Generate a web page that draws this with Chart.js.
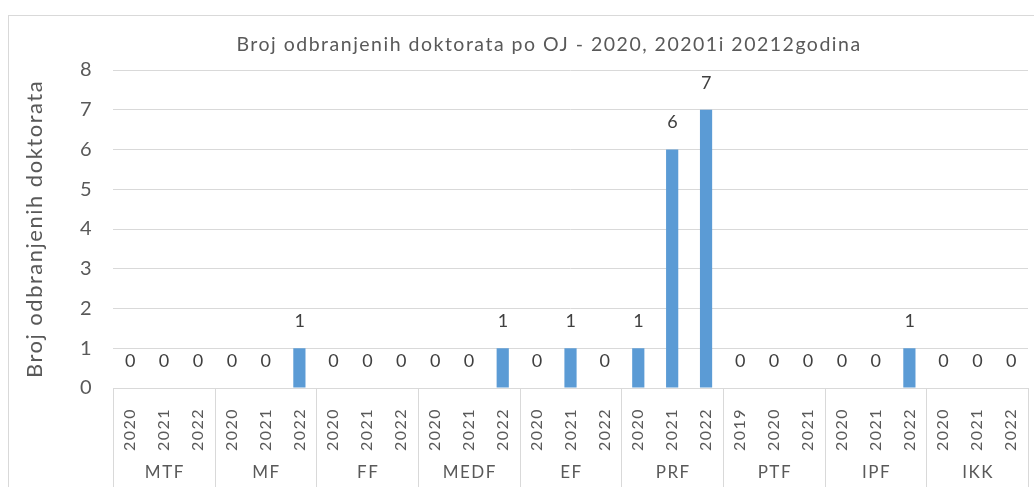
<!DOCTYPE html>
<html>
<head>
<meta charset="utf-8">
<script src="https://cdn.jsdelivr.net/npm/chart.js@4.4.1/dist/chart.umd.min.js"></script>
<style>
html, body { margin: 0; padding: 0; background: #fff; overflow: hidden; }
#wrap { position: relative; width: 1034px; height: 487px; }
#frame { position: absolute; left: 8px; top: 15px; width: 1100px; height: 600px; border: 1px solid #d9d9d9; }
canvas { position: absolute; left: 0; top: 0; }
</style>
</head>
<body>
<div id="wrap">
  <div id="frame"></div>
  <canvas id="myChart" width="1034" height="487"></canvas>
</div>
<script>
// data
var chartTitle = "Broj odbranjenih doktorata po OJ - 2020, 20201i 20212godina";
var axisTitle = "Broj odbranjenih doktorata";
var groups = ["MTF", "MF", "FF", "MEDF", "EF", "PRF", "PTF", "IPF", "IKK"];
var years = [
	"2020", "2021", "2022",
	"2020", "2021", "2022",
	"2020", "2021", "2022",
	"2020", "2021", "2022",
	"2020", "2021", "2022",
	"2020", "2021", "2022",
	"2019", "2020", "2021",
	"2020", "2021", "2022",
	"2020", "2021", "2022"
];
var counts = [
	0, 0, 0,
	0, 0, 1,
	0, 0, 0,
	0, 0, 1,
	0, 1, 0,
	1, 6, 7,
	0, 0, 0,
	0, 0, 1,
	0, 0, 0
];
var yTicks = [0, 1, 2, 3, 4, 5, 6, 7, 8];

var FONT = "Lato";
var TEXT = "#595959";
var LINE = "#d9d9d9";

//labels, title, group boxes
var excelBits = {
	id: "excelBits",
	beforeDraw: function(chart) {
		// excel text here is spaced out a bit
		chart.ctx.letterSpacing = "1.5px";
	},
	afterDatasetsDraw: function(chart) {
		var ctx = chart.ctx;
		var meta = chart.getDatasetMeta(0);
		ctx.save();
		ctx.font = "18px " + FONT;
		ctx.fillStyle = "#404040";
		ctx.textAlign = "center";
		ctx.textBaseline = "middle";
		meta.data.forEach(function(bar, i) {
			ctx.fillText(String(counts[i]), bar.x + 1, bar.y - 27);
		});
		ctx.restore();
	},
	afterDraw: function(chart) {
		var ctx = chart.ctx;
		var xs = chart.scales.x;
		var area = chart.chartArea;
		var step = xs.getPixelForValue(1) - xs.getPixelForValue(0);
		var per = years.length / groups.length;

		ctx.save();
		// title
		ctx.font = "19.5px " + FONT;
		ctx.fillStyle = TEXT;
		ctx.textAlign = "center";
		ctx.textBaseline = "middle";
		ctx.fillText(chartTitle, 549, 45);

		// group separators + names
		ctx.strokeStyle = LINE;
		ctx.lineWidth = 1;
		ctx.font = "17px " + FONT;
		for (var g = 0; g < groups.length; g++) {
			var first = g * per;
			var left = Math.round(xs.getPixelForValue(first) - step / 2) + 0.5;
			ctx.beginPath();
			ctx.moveTo(left, area.bottom);
			ctx.lineTo(left, chart.height);
			ctx.stroke();
			if (g === groups.length - 1) {
				var right = Math.round(xs.getPixelForValue(first + per - 1) + step / 2) + 0.5;
				ctx.beginPath();
				ctx.moveTo(right, area.bottom);
				ctx.lineTo(right, chart.height);
				ctx.stroke();
			}
			ctx.fillText(groups[g], xs.getPixelForValue(first + (per - 1) / 2) + 1, 473);
		}
		ctx.restore();
	}
};

var ctx = document.getElementById("myChart").getContext("2d");
var chart = new Chart(ctx, {
	type: "bar",
	data: {
		labels: years,
		datasets: [{
			data: counts,
			backgroundColor: "#5b9bd5",
			barPercentage: 0.36,
			categoryPercentage: 1.0
		}]
	},
	options: {
		responsive: false,
		animation: false,
		layout: { padding: { top: 70, right: 6, left: 0, bottom: 0 } },
		plugins: {
			legend: { display: false },
			tooltip: { enabled: false },
			title: { display: false }
		},
		scales: {
			x: {
				grid: { display: false },
				border: { display: true, color: LINE },
				ticks: {
					autoSkip: false,
					minRotation: 90,
					maxRotation: 90,
					padding: 12,
					color: TEXT,
					font: { family: FONT, size: 16 }
				},
				afterFit: function(scale) {
					scale.height = 99;
					scale.paddingLeft = 0;
					scale.paddingRight = 0;
				}
			},
			y: {
				min: 0,
				max: 8,
				afterBuildTicks: function(scale) {
					scale.ticks = yTicks.map(function(v) { return { value: v }; });
				},
				grid: { color: LINE, drawTicks: false },
				border: { display: false },
				ticks: {
					padding: 20,
					color: TEXT,
					font: { family: FONT, size: 20 }
				},
				title: {
					display: true,
					text: axisTitle,
					color: TEXT,
					font: { family: FONT, size: 22 },
					padding: { top: 22, bottom: 0 }
				},
				afterFit: function(scale) { scale.width = 113; }
			}
		}
	},
	plugins: [excelBits]
});
</script>
</body>
</html>
